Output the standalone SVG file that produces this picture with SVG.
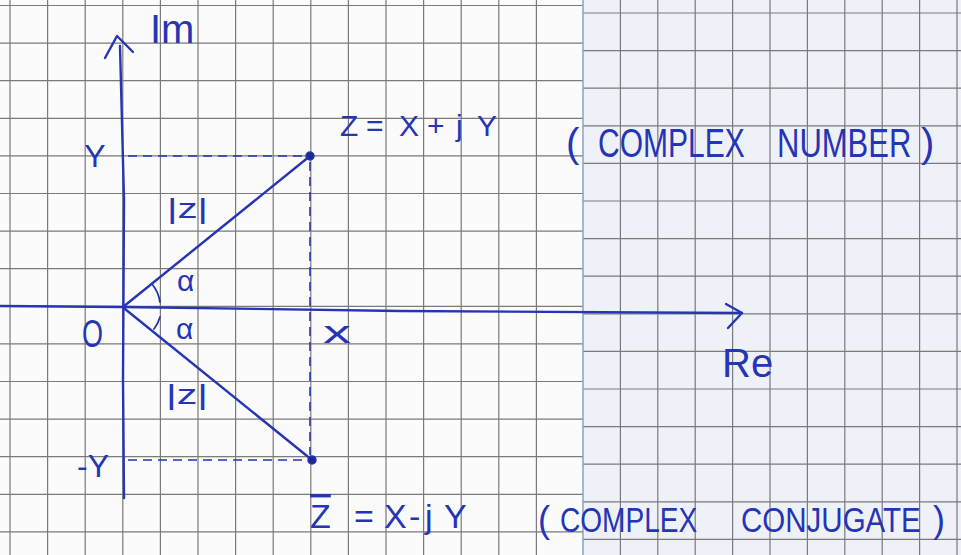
<svg xmlns="http://www.w3.org/2000/svg" width="961" height="555" viewBox="0 0 961 555">
<defs>
<style>
.grid{stroke:#7a7a7a;stroke-width:1.2;fill:none}
.ink{stroke:#2535b5;stroke-width:2.4;fill:none;stroke-linecap:round;stroke-linejoin:round}
.thin{stroke:#2535b5;stroke-width:1.8;fill:none;stroke-linecap:round}
.dash{stroke:#2535b5;stroke-width:1.6;fill:none;stroke-dasharray:9 6}
.t{font-family:"Liberation Sans",Arial,sans-serif;fill:#2535b5}
.dot{fill:#1c2a8a;stroke:#2535b5;stroke-width:1.5}
</style>
</defs>
<g id="paper">
<rect width="961" height="555" fill="#fbfbfb"/>
<rect x="583" y="0" width="378" height="555" fill="#eff1f8"/>
<path class="grid" d="M10,0V555M47.6,0V555M85.2,0V555M122.8,0V555M160.4,0V555M198,0V555M235.6,0V555M273.2,0V555M310.8,0V555M348.4,0V555M386,0V555M423.6,0V555M461.2,0V555M498.8,0V555M536.4,0V555"/>
<path class="grid" d="M0,5.5H583M0,43.1H583M0,80.7H583M0,118.3H583M0,155.9H583M0,193.5H583M0,231.1H583M0,268.7H583M0,306.3H583M0,343.9H583M0,381.5H583M0,419.1H583M0,456.7H583M0,494.3H583M0,531.9H583"/>
<path class="grid" d="M620.4,0V555M657.8,0V555M695.2,0V555M732.6,0V555M770,0V555M807.4,0V555M844.8,0V555M882.2,0V555M919.6,0V555M957,0V555"/>
<path class="grid" d="M583,13H961M583,50.6H961M583,88.2H961M583,125.8H961M583,163.4H961M583,201H961M583,238.6H961M583,276.2H961M583,313.8H961M583,351.4H961M583,389H961M583,426.6H961M583,464.2H961M583,501.8H961M583,539.4H961"/>
<line x1="583" y1="0" x2="583" y2="555" stroke="#8aa0c8" stroke-width="1.5"/>
</g>
<g id="connectors">
<path class="ink" d="M120,46 L124,200 L123,380 L124,498"/>
<path class="ink" d="M105,58 L117,36 L133,52"/>
<path class="ink" d="M0,306 L123,307 L400,311 L742,313"/>
<path class="ink" d="M726,304 L742,313 L728,328"/>
<path class="ink" d="M123,307 L310,156"/>
<path class="ink" d="M125,309 L312,460"/>
<path class="dash" d="M128,156 H306"/>
<path class="dash" d="M310,162 V455"/>
<path class="dash" d="M128,460 H307"/>
<path class="thin" d="M152,284 A37,37 0 0 1 160,302"/>
<path class="thin" d="M160,317 A38,38 0 0 1 154,329"/>
</g>
<g id="axis-im"><text class="t" x="150" y="43" font-size="40">Im</text></g>
<g id="axis-re"><text class="t" x="722" y="377" font-size="40">Re</text></g>
<g id="origin"><text class="t" x="82" y="347" font-size="38" textLength="21" lengthAdjust="spacingAndGlyphs">O</text></g>
<g id="label-y"><text class="t" x="95" y="167" font-size="32" text-anchor="middle">Y</text></g>
<g id="label-minus-y"><text class="t" x="77" y="477" font-size="32">-Y</text></g>
<g id="label-x"><text class="t" x="323" y="343" font-size="32" textLength="28" lengthAdjust="spacingAndGlyphs">x</text></g>
<g id="mod-upper"><text class="t" x="167" y="218" font-size="28" textLength="41" lengthAdjust="spacingAndGlyphs">|z|</text></g>
<g id="mod-lower"><text class="t" x="166" y="404" font-size="28" textLength="42" lengthAdjust="spacingAndGlyphs">|z|</text></g>
<g id="angle-upper"><text class="t" x="177" y="291" font-size="30">α</text></g>
<g id="angle-lower"><text class="t" x="176" y="339" font-size="30">α</text></g>
<g id="point-z">
<circle class="dot" cx="310" cy="156" r="4"/>
<text class="t" font-size="30" y="136" x="340 366 399 427 456 477">Z=X+jY</text>
<text class="t" font-size="40" x="566" y="157">(</text>
<text class="t" font-size="40" transform="translate(598,157) scale(0.75,1)">COMPLEX</text>
<text class="t" font-size="40" transform="translate(777,157) scale(0.775,1)">NUMBER</text>
<text class="t" font-size="40" x="921" y="157">)</text>
</g>
<g id="point-zbar">
<circle class="dot" cx="312" cy="460" r="4"/>
<text class="t" font-size="34" y="528"><tspan x="310" style="text-decoration:overline">Z</tspan><tspan x="354">=</tspan><tspan x="384">X</tspan><tspan x="409">-</tspan><tspan x="425">j</tspan><tspan x="444">Y</tspan></text>
<text class="t" font-size="36" x="538" y="532">(</text>
<text class="t" font-size="36" transform="translate(560,532) scale(0.78,1)">COMPLEX</text>
<text class="t" font-size="36" transform="translate(741,532) scale(0.82,1)">CONJUGATE</text>
<text class="t" font-size="36" x="933" y="532">)</text>
</g>
</svg>
